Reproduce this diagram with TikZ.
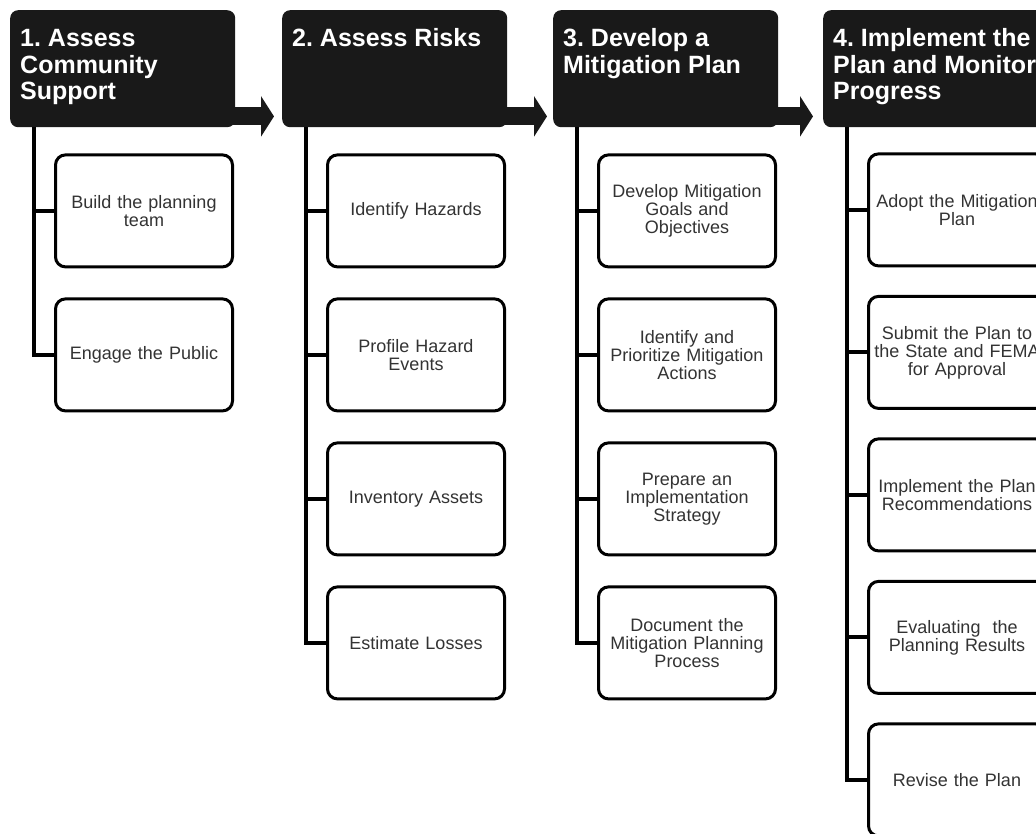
\documentclass[tikz,border=0pt]{standalone}
\usepackage{fontspec}
\setmainfont{Liberation Sans}
\usetikzlibrary{calc,arrows.meta}
\frenchspacing

\newcommand{\headline}[1]{\parbox[c][81pt][t]{205pt}{\raggedright\strut #1}}

\begin{document}
\begin{tikzpicture}[x=1pt,y=-1pt,
        phase/.style={fill=black!90,rounded corners=8pt,text=white,inner xsep=10pt,inner ysep=18pt,
            minimum width=225pt,minimum height=117pt,anchor=north west,font={\bfseries\fontsize{25}{26.5}\selectfont}},
        task/.style={draw,line width=3pt,rounded corners=10pt,fill=white,minimum width=177pt,minimum height=112pt,
            text width=170pt,align=center,inner sep=0pt,anchor=north west,text=black!80,font={\fontsize{18}{18}\selectfont}},
        phasearrow/.style={line width=18pt,black!90,-{Triangle[length=13pt,width=40pt]}},
        trunk/.style={line width=4pt}]
    \useasboundingbox (0,0) rectangle (1036,833);
    \clip (0,0) rectangle (1036,833);

    % phase headers
    \node[phase] (h1) at (10,10) {\headline{1. Assess\\Community\\Support}};
    \node[phase] (h2) at (282,10) {\headline{2. Assess Risks}};
    \node[phase] (h3) at (553,10) {\headline{3. Develop a\\Mitigation Plan}};
    \node[phase] (h4) at (823,10) {\headline{4. Implement the\\Plan and Monitor\\Progress}};

    \draw[phasearrow] ($ (h1.south east) + (-6,-11) $) -- ($ (h2.south west) + (-8,-11) $);
    \draw[phasearrow] ($ (h2.south east) + (-6,-11) $) -- ($ (h3.south west) + (-6,-11) $);
    \draw[phasearrow] ($ (h3.south east) + (-6,-11) $) -- ($ (h4.south west) + (-10,-11) $);

    % 1. community support
    \node[task] (c11) at ($ (h1.south west) + (44,26) $) {Build the planning\\team};
    \node[task] (c12) at ($ (c11.south west) + (0,29) $) {Engage the Public};

    % 2. risks
    \node[task] (c21) at ($ (h2.south west) + (44,26) $) {Identify Hazards};
    \node[task] (c22) at ($ (c21.south west) + (0,29) $) {Profile Hazard\\Events};
    \node[task] (c23) at ($ (c22.south west) + (0,29) $) {Inventory Assets};
    \node[task] (c24) at ($ (c23.south west) + (0,29) $) {Estimate Losses};

    % 3. mitigation plan
    \node[task] (c31) at ($ (h3.south west) + (44,26) $) {Develop Mitigation\\Goals and\\Objectives};
    \node[task] (c32) at ($ (c31.south west) + (0,29) $) {Identify and\\Prioritize Mitigation\\Actions};
    \node[task] (c33) at ($ (c32.south west) + (0,29) $) {Prepare an\\Implementation\\Strategy};
    \node[task] (c34) at ($ (c33.south west) + (0,29) $) {Document the\\Mitigation Planning\\Process};

    % 4. implement and monitor
    \node[task] (c41) at ($ (h4.south west) + (44,25) $) {Adopt the Mitigation\\Plan};
    \node[task] (c42) at ($ (c41.south west) + (0,27.5) $) {Submit the Plan to\\the State and FEMA\\for Approval};
    \node[task] (c43) at ($ (c42.south west) + (0,27.5) $) {Implement the Plan\\Recommendations};
    \node[task] (c44) at ($ (c43.south west) + (0,27.5) $) {Evaluating\ \ the\\Planning Results};
    \node[task] (c45) at ($ (c44.south west) + (0,27.5) $) {Revise the Plan};

    % trunks and branches
    \coordinate (s1) at ($ (c11.west |- h1.south) + (-20,0) $);
    \draw[trunk] (s1) |- (c12.west);
    \draw[trunk] (s1 |- c11.west) -- (c11.west);

    \coordinate (s2) at ($ (c21.west |- h2.south) + (-20,0) $);
    \draw[trunk] (s2) |- (c24.west);
    \draw[trunk] (s2 |- c21.west) -- (c21.west);
    \draw[trunk] (s2 |- c22.west) -- (c22.west);
    \draw[trunk] (s2 |- c23.west) -- (c23.west);

    \coordinate (s3) at ($ (c31.west |- h3.south) + (-20,0) $);
    \draw[trunk] (s3) |- (c34.west);
    \draw[trunk] (s3 |- c31.west) -- (c31.west);
    \draw[trunk] (s3 |- c32.west) -- (c32.west);
    \draw[trunk] (s3 |- c33.west) -- (c33.west);

    \coordinate (s4) at ($ (c41.west |- h4.south) + (-20,0) $);
    \draw[trunk] (s4) |- (c45.west);
    \draw[trunk] (s4 |- c41.west) -- (c41.west);
    \draw[trunk] (s4 |- c42.west) -- (c42.west);
    \draw[trunk] (s4 |- c43.west) -- (c43.west);
    \draw[trunk] (s4 |- c44.west) -- (c44.west);
\end{tikzpicture}
\end{document}
